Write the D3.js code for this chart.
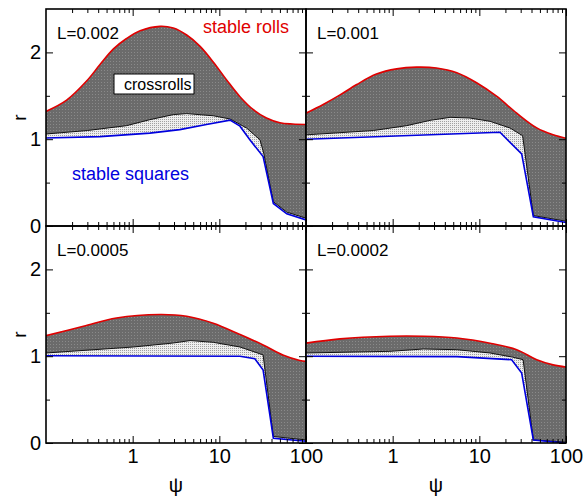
<!DOCTYPE html>
<html>
<head>
<meta charset="utf-8">
<script src="https://cdn.jsdelivr.net/npm/d3@7"></script>
<style>
	body { margin: 0; background: #fff; }
	text { font-family: "Liberation Sans", Arial, sans-serif; }
</style>
</head>
<body>
<div id="chart"></div>
<script>
// panel titles
const LABELS = ['L=0.002', 'L=0.001', 'L=0.0005', 'L=0.0002'];
const X_LABELS = [1, 10, 100];
const Y_LABELS = [0, 1, 2];

// [psi, r]; rolls = red, cross = black, squares = blue
const rolls002 = [[0.1, 1.32], [0.173, 1.45], [0.294, 1.67], [0.42, 1.86], [0.6, 2.04], [0.85, 2.16], [1.22, 2.25], [2.07, 2.30], [2.94, 2.28], [4.2, 2.20], [6, 2.07], [8.5, 1.89], [12.2, 1.68], [17.3, 1.49], [24.7, 1.34], [35, 1.245], [50, 1.19], [70, 1.175], [100, 1.17]];
const cross002 = [[0.1, 1.06], [0.3, 1.1], [0.85, 1.156], [1.58, 1.225], [2.94, 1.283], [4.2, 1.295], [8.5, 1.27], [13.3, 1.233], [20.6, 1.129], [29.4, 0.994], [32.5, 0.84], [42, 0.28], [60, 0.16], [100, 0.09]];
const squares002 = [[0.1, 1.013], [0.42, 1.03], [1.58, 1.07], [3.5, 1.11], [7.1, 1.17], [13.3, 1.22], [17.3, 1.15], [22.6, 0.99], [32, 0.8], [42, 0.26], [60, 0.14], [100, 0.07]];

const rolls001 = [[0.1, 1.30], [0.158, 1.40], [0.247, 1.51], [0.385, 1.63], [0.65, 1.75], [1.11, 1.81], [1.89, 1.83], [3.2, 1.82], [5.5, 1.765], [9.3, 1.65], [15.8, 1.495], [27, 1.30], [46, 1.13], [71, 1.05], [100, 1.01]];
const cross001 = [[0.1, 1.05], [0.6, 1.10], [1.45, 1.156], [2.7, 1.217], [4.6, 1.252], [7.8, 1.244], [13.3, 1.206], [22.6, 1.129], [31.6, 1.04], [42, 0.12], [100, 0.055]];
const squares001 = [[0.1, 1.0], [17.3, 1.08], [30.8, 0.83], [42, 0.107], [100, 0.04]];

const rolls0005 = [[0.1, 1.237], [0.27, 1.345], [0.65, 1.44], [2.07, 1.48], [4.2, 1.46], [8.5, 1.38], [17.3, 1.25], [32, 1.13], [55, 1.01], [85, 0.95], [100, 0.94]];
const cross0005 = [[0.1, 1.037], [1.02, 1.106], [2.94, 1.152], [4.6, 1.18], [8.5, 1.16], [17.3, 1.106], [32, 1.015], [42, 0.075], [100, 0.035]];
const squares0005 = [[0.1, 1.006], [17.3, 1.0], [25.7, 0.97], [32, 0.84], [42, 0.054], [100, 0.02]];

const rolls0002 = [[0.1, 1.15], [0.247, 1.20], [0.93, 1.23], [2.26, 1.23], [5.5, 1.21], [13.3, 1.15], [27, 1.075], [46, 0.96], [71, 0.90], [100, 0.875]];
const cross0002 = [[0.1, 1.037], [0.93, 1.056], [2.26, 1.083], [5.5, 1.075], [13.3, 1.037], [24, 0.99], [32, 0.96], [42, 0.035], [100, 0.01]];
const squares0002 = [[0.1, 1.0], [5.5, 0.995], [23.6, 0.96], [30.8, 0.806], [42, 0.035], [100, 0.0]];

const ROLLS = [rolls002, rolls001, rolls0005, rolls0002];
const CROSS = [cross002, cross001, cross0005, cross0002];
const SQUARES = [squares002, squares001, squares0005, squares0002];

const MARGIN = { TOP: 9, LEFT: 46 };
const PW = 260, PH = 217;
const RED = '#e00000', BLUE = '#0000dd';

var svg = d3.select('#chart').append('svg')
	.attr('width', 584)
	.attr('height', 501)
	.style('background', '#fff');

var defs = svg.append('defs');
var dk = defs.append('pattern').attr('id', 'dark').attr('width', 3).attr('height', 3).attr('patternUnits', 'userSpaceOnUse');
dk.append('rect').attr('width', 3).attr('height', 3).attr('fill', '#6b6b6b');
dk.append('rect').attr('x', 1).attr('y', 1).attr('width', 1).attr('height', 1).attr('fill', '#8a8a8a');
var lt = defs.append('pattern').attr('id', 'light').attr('width', 2).attr('height', 2).attr('patternUnits', 'userSpaceOnUse');
lt.append('rect').attr('width', 2).attr('height', 2).attr('fill', '#eeeeee');
lt.append('rect').attr('width', 1).attr('height', 1).attr('fill', '#a0a0a0');
defs.append('clipPath').attr('id', 'clip').append('rect').attr('width', PW).attr('height', PH);

var x = d3.scaleLog().domain([0.1, 100]).range([0, PW]);
var y = d3.scaleLinear().domain([0, 2.5]).range([PH, 0]);

var smooth = d3.line().x(function (d) { return x(d[0]); }).y(function (d) { return y(d[1]); }).curve(d3.curveCatmullRom.alpha(0.5));
var straight = d3.line().x(function (d) { return x(d[0]); }).y(function (d) { return y(d[1]); });

var xMajor = [1, 10, 100], xMinor = [];
[0.1, 1, 10].forEach(function (b) { for (var k = 2; k < 10; k++) xMinor.push(b * k); });
var yMajor = [0, 1, 2], yMinor = [0.5, 1.5];

LABELS.forEach(function (label, i) {
	var col = i % 2, row = Math.floor(i / 2);
	var g = svg.append('g')
		.attr('transform', 'translate(' + (MARGIN.LEFT + col * PW) + ',' + (MARGIN.TOP + row * PH) + ')');

	var plot = g.append('g').attr('clip-path', 'url(#clip)');
	var back = straight(SQUARES[i].slice().reverse()).replace(/^M/, 'L');

	plot.append('path').attr('d', smooth(ROLLS[i]) + back + 'Z').attr('fill', 'url(#dark)');
	plot.append('path').attr('d', straight(CROSS[i]) + back + 'Z').attr('fill', 'url(#light)');
	plot.append('path').attr('d', straight(CROSS[i])).attr('fill', 'none').attr('stroke', '#111').attr('stroke-width', 1);
	plot.append('path').attr('d', straight(SQUARES[i])).attr('fill', 'none').attr('stroke', BLUE).attr('stroke-width', 1.6);
	plot.append('path').attr('d', smooth(ROLLS[i])).attr('fill', 'none').attr('stroke', RED).attr('stroke-width', 1.6);

	// inward ticks on all four sides
	function ticks (axis, vals, len, tr) {
		var a = g.append('g').attr('transform', tr)
			.call(axis.tickValues(vals).tickSize(-len).tickFormat(''));
		a.select('.domain').remove();
		a.selectAll('line').attr('stroke', '#000').attr('stroke-width', 1);
	}
	ticks(d3.axisBottom(x), xMajor, 7, 'translate(0,' + PH + ')');
	ticks(d3.axisBottom(x), xMinor, 4, 'translate(0,' + PH + ')');
	ticks(d3.axisTop(x), xMajor, 7, 'translate(0,0)');
	ticks(d3.axisTop(x), xMinor, 4, 'translate(0,0)');
	ticks(d3.axisLeft(y), yMajor, 7, 'translate(0,0)');
	ticks(d3.axisLeft(y), yMinor, 4, 'translate(0,0)');
	ticks(d3.axisRight(y), yMajor, 7, 'translate(' + PW + ',0)');
	ticks(d3.axisRight(y), yMinor, 4, 'translate(' + PW + ',0)');

	g.append('rect').attr('width', PW).attr('height', PH)
		.attr('fill', 'none').attr('stroke', '#000').attr('stroke-width', 1.6);

	g.append('text').attr('x', 11).attr('y', 30)
		.style('font-size', '17px').attr('fill', '#000').text(label);

	if (row === 1) {
		var xa = g.append('g').attr('transform', 'translate(0,' + PH + ')')
			.call(d3.axisBottom(x).tickValues(X_LABELS).tickSize(0).tickPadding(6).tickFormat(d3.format('d')));
		xa.select('.domain').remove();
		xa.selectAll('text').style('font-size', '20px').attr('fill', '#000');
		g.append('text').attr('x', PW / 2).attr('y', PH + 49).attr('text-anchor', 'middle')
			.style('font-size', '20px').text('\u03C8');
	}
	if (col === 0) {
		var ya = g.append('g')
			.call(d3.axisLeft(y).tickValues(Y_LABELS).tickSize(0).tickPadding(5).tickFormat(d3.format('d')));
		ya.select('.domain').remove();
		ya.selectAll('text').style('font-size', '20px').attr('fill', '#000');
		g.append('text').attr('transform', 'translate(-20,' + (PH / 2) + ') rotate(-90)')
			.attr('text-anchor', 'middle').style('font-size', '19px').text('r');
	}
});

// annotations in the first panel
svg.append('text').attr('x', 203).attr('y', 33).style('font-size', '18px').attr('fill', RED).text('stable rolls');
svg.append('text').attr('x', 72).attr('y', 180).style('font-size', '18px').attr('fill', BLUE).text('stable squares');
svg.append('rect').attr('x', 114).attr('y', 74).attr('width', 80).attr('height', 20)
	.attr('fill', '#fff').attr('stroke', '#000').attr('stroke-width', 1);
svg.append('text').attr('x', 124).attr('y', 90).style('font-size', '16px').attr('fill', '#000').text('crossrolls');
</script>
</body>
</html>
